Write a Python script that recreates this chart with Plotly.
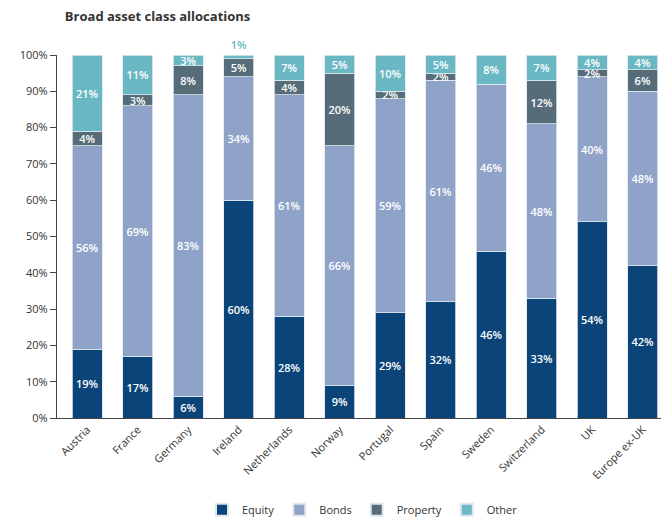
import plotly.graph_objects as go

countries = ["Austria", "France", "Germany", "Ireland", "Netherlands", "Norway",
             "Portugal", "Spain", "Sweden", "Switzerland", "UK", "Europe ex-UK"]
equity = [19, 17, 6, 60, 28, 9, 29, 32, 46, 33, 54, 42]
bonds = [56, 69, 83, 34, 61, 66, 59, 61, 46, 48, 40, 48]
prop = [4, 3, 8, 5, 4, 20, 2, 2, 0, 12, 2, 6]
other = [21, 11, 3, 1, 7, 5, 10, 5, 8, 7, 4, 4]

series = [("Equity", equity, "#0a4478"),
          ("Bonds", bonds, "#8fa2c7"),
          ("Property", prop, "#566d79"),
          ("Other", other, "#69b8c3")]

FONT = "Open Sans"
fig = go.Figure()
for name, vals, col in series:
    texts = [f"{v}%" if v > 0 else "" for v in vals]
    if name == "Other":
        pos = ["outside" if v <= 1 else "inside" for v in vals]
        tcol = [col if v <= 1 else "white" for v in vals]
    else:
        pos = ["inside"] * len(vals)
        tcol = ["white"] * len(vals)
    fig.add_trace(go.Bar(
        name=name, x=countries, y=vals, text=texts,
        textposition=pos, insidetextanchor="middle", textangle=0,
        constraintext="none", cliponaxis=False,
        textfont=dict(family=FONT, size=11, color=tcol, weight=600),
        outsidetextfont=dict(family=FONT, size=11, color=tcol, weight=600),
        marker=dict(color=col, line=dict(color="#dfe7f0", width=0.8)),
    ))

# page body adds an 8px offset, so the figure is 8px smaller than the window
fig.update_layout(
    barmode="stack", bargap=0.4,
    width=661, height=512,
    margin=dict(l=49, r=1, t=47, b=102, autoexpand=False),
    paper_bgcolor="white", plot_bgcolor="white",
    font=dict(family=FONT, size=11, color="#333333"),
    title=dict(text="<b>Broad asset class allocations</b>", x=0.086, xref="container",
               xanchor="left", y=0.984, yanchor="middle",
               font=dict(family=FONT, size=13, color="#333333")),
    showlegend=True,
    legend=dict(orientation="h", x=0.5, xanchor="center", y=-0.253, yanchor="middle",
                font=dict(family=FONT, size=11, color="#333333"),
                itemsizing="constant", traceorder="normal"),
)
fig.update_xaxes(range=[-0.6, 11.5], tickangle=-45, showline=True, linecolor="#444444",
                 linewidth=1, ticks="", showgrid=False, automargin=False,
                 tickfont=dict(family=FONT, size=11, color="#333333"))
fig.update_yaxes(range=[0, 100], tickvals=list(range(0, 101, 10)),
                 ticktext=[f"{v}%" for v in range(0, 101, 10)],
                 showline=True, linecolor="#444444", linewidth=1.2,
                 ticks="outside", ticklen=6, tickcolor="#444444",
                 showgrid=False, zeroline=False, automargin=False,
                 tickfont=dict(family=FONT, size=11, color="#333333"))

fig.write_html("out.html")
